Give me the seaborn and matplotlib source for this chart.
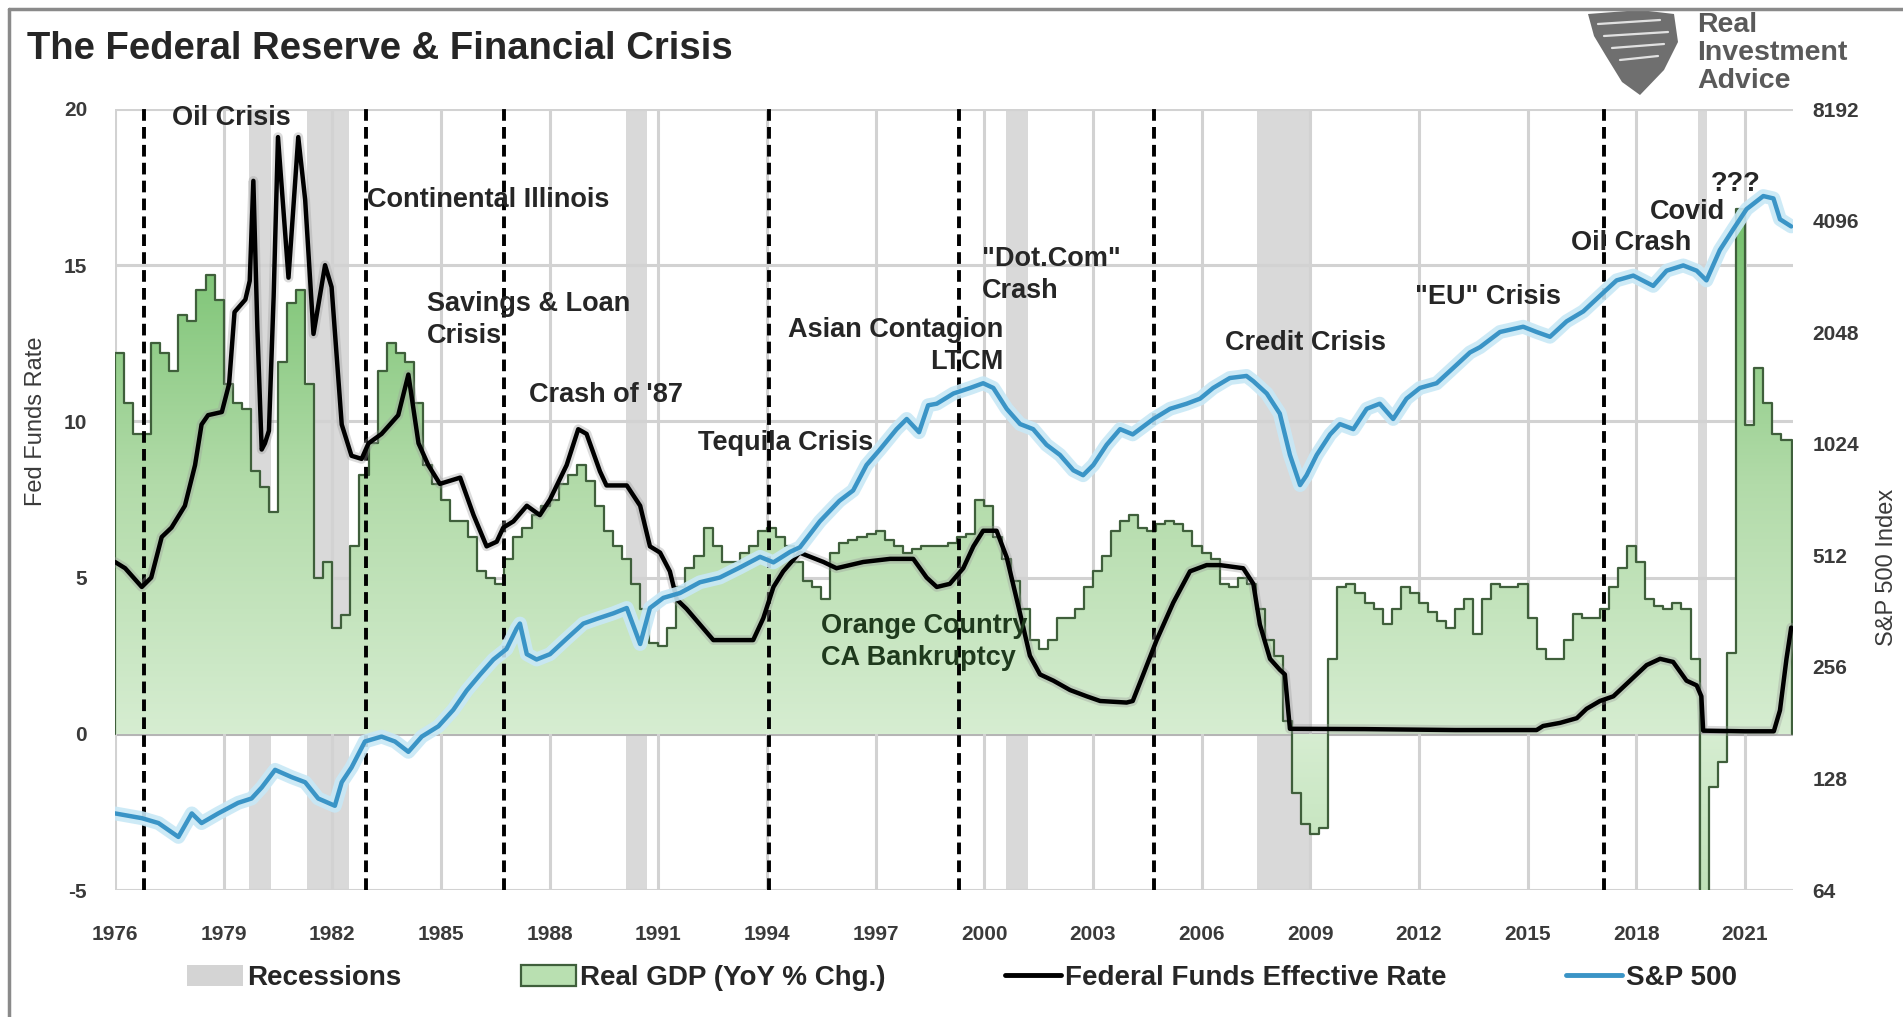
import numpy as np
import matplotlib
matplotlib.use("Agg")
import matplotlib.pyplot as plt
import seaborn as sns
from matplotlib.patches import Patch, Polygon
from matplotlib.lines import Line2D
from matplotlib.colors import LinearSegmentedColormap

# ---------------- data ----------------
# GDP year-over-year % change, quarterly, first quarter at 1976.0
gdp_start = 1976.0
gdp_end = 2022.3
gdp_yoy = [
    12.2, 10.6, 9.6, 9.6,     # 1976
    12.5, 12.2, 11.6, 13.4,   # 1977
    13.2, 14.2, 14.7, 13.9,   # 1978
    11.2, 10.6, 10.4, 8.4,    # 1979
    7.9, 7.1, 11.9, 13.8,     # 1980
    14.2, 11.2, 5.0, 5.5,     # 1981
    3.4, 3.8, 6.0, 8.3,       # 1982
    9.3, 11.6, 12.5, 12.2,    # 1983
    11.9, 10.6, 8.6, 8.0,     # 1984
    7.5, 6.8, 6.8, 6.3,       # 1985
    5.2, 5.0, 4.8, 5.6,       # 1986
    6.3, 6.6, 7.0, 7.3,       # 1987
    7.5, 8.0, 8.3, 8.6,       # 1988
    8.1, 7.3, 6.5, 6.0,       # 1989
    5.6, 4.8, 4.0, 2.9,       # 1990
    2.8, 3.4, 4.7, 5.3,       # 1991
    5.7, 6.6, 6.0, 5.5,       # 1992
    5.5, 5.8, 6.0, 6.5,       # 1993
    6.6, 6.3, 6.0, 5.5,       # 1994
    4.9, 4.7, 4.3, 5.8,       # 1995
    6.1, 6.2, 6.3, 6.4,       # 1996
    6.5, 6.2, 6.0, 5.8,       # 1997
    5.9, 6.0, 6.0, 6.0,       # 1998
    6.1, 6.3, 6.4, 7.5,       # 1999
    7.3, 6.3, 5.6, 4.9,       # 2000
    4.0, 3.0, 2.7, 3.0,       # 2001
    3.7, 3.7, 4.0, 4.7,       # 2002
    5.2, 5.7, 6.5, 6.8,       # 2003
    7.0, 6.6, 6.5, 6.7,       # 2004
    6.8, 6.7, 6.5, 6.0,       # 2005
    5.8, 5.6, 4.8, 4.7,       # 2006
    5.0, 4.8, 4.0, 3.0,       # 2007
    2.5, 0.4, -1.9, -2.9,     # 2008
    -3.2, -3.0, 2.4, 4.7,     # 2009
    4.8, 4.5, 4.2, 4.0,       # 2010
    3.5, 4.0, 4.7, 4.5,       # 2011
    4.2, 3.9, 3.6, 3.4,       # 2012
    4.0, 4.3, 3.2, 4.3,       # 2013
    4.8, 4.7, 4.7, 4.8,       # 2014
    3.7, 2.7, 2.4, 2.4,       # 2015
    3.0, 3.85, 3.7, 3.7,      # 2016
    4.0, 4.7, 5.3, 6.0,       # 2017
    5.5, 4.3, 4.1, 4.0,       # 2018
    4.2, 4.0, 2.4, -7.9,      # 2019
    -1.7, -0.9, 2.6, 16.8,    # 2020
    9.9, 11.7, 10.6, 9.6,     # 2021
    9.4,                      # 2022
]

# Federal funds effective rate
ff_years = [1976.0, 1976.28, 1976.74, 1977.0, 1977.29, 1977.56, 1977.93, 1978.21,
            1978.39, 1978.57, 1978.95, 1979.15, 1979.3, 1979.6, 1979.72, 1979.82,
            1979.93, 1980.05, 1980.14, 1980.25, 1980.38, 1980.5, 1980.79, 1981.06,
            1981.25, 1981.48, 1981.8, 1981.98, 1982.26, 1982.53, 1982.81, 1983.0,
            1983.36, 1983.82, 1984.1, 1984.38, 1984.65, 1984.97, 1985.53, 1985.9,
            1986.26, 1986.54, 1986.72, 1987.0, 1987.37, 1987.73, 1988.01, 1988.47,
            1988.79, 1989.02, 1989.39, 1989.57, 1990.13, 1990.5, 1990.77, 1991.05,
            1991.32, 1991.51, 1991.78, 1992.15, 1992.52, 1993.62, 1993.9, 1994.18,
            1994.45, 1994.9, 1995.56, 1995.92, 1996.66, 1997.4, 1998.04, 1998.41,
            1998.69, 1999.05, 1999.42, 1999.7, 1999.97, 2000.34, 2000.62, 2000.99,
            2001.26, 2001.54, 2001.91, 2002.37, 2002.83, 2003.2, 2003.93, 2004.1,
            2004.39, 2004.76, 2005.22, 2005.68, 2006.14, 2006.51, 2007.15, 2007.43,
            2007.61, 2007.89, 2008.16, 2008.3, 2008.44, 2010.5, 2013.0, 2015.25,
            2015.43, 2015.9, 2016.36, 2016.63, 2017.0, 2017.37, 2017.83, 2018.29,
            2018.66, 2019.02, 2019.39, 2019.67, 2019.8, 2019.85, 2021.0, 2021.8,
            2021.97, 2022.15, 2022.28]
ff_rate = [5.5, 5.3, 4.7, 5.0, 6.3, 6.6, 7.3, 8.6,
           9.9, 10.2, 10.3, 11.2, 13.5, 13.9, 14.5, 17.7,
           13.0, 9.1, 9.3, 9.7, 14.0, 19.1, 14.6, 19.1,
           17.1, 12.8, 15.0, 14.3, 9.9, 8.9, 8.8, 9.3,
           9.6, 10.2, 11.5, 9.3, 8.6, 8.0, 8.2, 7.0,
           6.0, 6.15, 6.6, 6.8, 7.3, 7.0, 7.5, 8.6,
           9.75, 9.6, 8.4, 7.95, 7.95, 7.3, 6.0, 5.8,
           5.2, 4.3, 4.0, 3.5, 3.0, 3.0, 3.7, 4.7,
           5.2, 5.8, 5.5, 5.3, 5.5, 5.6, 5.6, 5.0,
           4.7, 4.8, 5.3, 6.0, 6.5, 6.5, 5.65, 3.85,
           2.5, 1.9, 1.7, 1.4, 1.2, 1.05, 1.0, 1.05,
           1.9, 3.0, 4.2, 5.2, 5.4, 5.4, 5.3, 4.8,
           3.5, 2.4, 2.05, 1.9, 0.16, 0.15, 0.12, 0.12,
           0.25, 0.35, 0.5, 0.8, 1.05, 1.2, 1.7, 2.2,
           2.4, 2.3, 1.7, 1.55, 1.2, 0.1, 0.08, 0.08,
           0.75, 2.4, 3.4]

# S&P 500 index level
spx_years = [1976.0, 1976.74, 1977.2, 1977.75, 1978.12, 1978.39, 1978.85, 1979.4,
             1979.77, 1980.05, 1980.42, 1980.88, 1981.25, 1981.61, 1982.07, 1982.26,
             1982.53, 1982.9, 1983.36, 1983.73, 1984.1, 1984.47, 1984.93, 1985.34,
             1985.71, 1986.08, 1986.45, 1986.81, 1987.09, 1987.18, 1987.37, 1987.64,
             1988.01, 1988.47, 1988.93, 1989.3, 1989.76, 1990.13, 1990.5, 1990.77,
             1991.14, 1991.6, 1992.15, 1992.7, 1993.26, 1993.81, 1994.18, 1994.64,
             1994.91, 1995.46, 1996.0, 1996.38, 1996.75, 1997.12, 1997.58, 1997.86,
             1998.2, 1998.45, 1998.69, 1999.15, 1999.61, 1999.97, 2000.25, 2000.62,
             2000.99, 2001.35, 2001.72, 2002.09, 2002.46, 2002.73, 2003.01, 2003.38,
             2003.75, 2004.1, 2004.67, 2005.13, 2005.59, 2005.96, 2006.32, 2006.78,
             2007.24, 2007.43, 2007.8, 2008.16, 2008.44, 2008.72, 2008.9, 2009.18,
             2009.55, 2009.82, 2010.19, 2010.56, 2010.92, 2011.29, 2011.66, 2012.03,
             2012.49, 2012.95, 2013.41, 2013.69, 2014.24, 2014.88, 2015.25, 2015.62,
             2016.08, 2016.54, 2017.0, 2017.46, 2017.92, 2018.47, 2018.84, 2019.3,
             2019.67, 2019.94, 2020.31, 2020.68, 2021.05, 2021.51, 2021.79, 2021.97,
             2022.28]
spx_level = [103, 100, 97, 89, 103, 97, 103, 110,
             113, 121, 135, 129, 125, 113, 108, 125,
             137, 161, 166, 161, 151, 166, 177, 196,
             221, 244, 268, 286, 325, 335, 277, 268,
             277, 305, 335, 345, 357, 369, 295, 369,
             393, 405, 433, 446, 475, 507, 490, 523,
             538, 632, 718, 766, 897, 988, 1121, 1194,
             1100, 1300, 1313, 1399, 1448, 1491, 1448, 1272,
             1157, 1121, 1017, 955, 868, 842, 897, 1017,
             1121, 1085, 1194, 1272, 1313, 1355, 1448, 1540,
             1560, 1510, 1399, 1235, 955, 792, 842, 955,
             1085, 1157, 1121, 1272, 1313, 1194, 1355, 1448,
             1491, 1640, 1805, 1866, 2050, 2118, 2050, 1990,
             2190, 2330, 2567, 2825, 2910, 2730, 3000, 3100,
             3000, 2825, 3410, 3880, 4400, 4770, 4700, 4130,
             3950]

recessions = [(1979.7, 1980.3), (1981.3, 1982.45), (1990.1, 1990.7),
              (2000.6, 2001.2), (2007.52, 2009.0), (2019.7, 2019.95)]

crisis_years = [1976.8, 1982.93, 1986.75, 1994.05, 1999.3, 2004.7, 2017.1]

events = [
    ("Oil Crisis", 1979.22, 19.7, "center"),
    ("Continental Illinois", 1982.95, 17.1, "left"),
    ("Savings & Loan\nCrisis", 1984.62, 13.25, "left"),
    ("Crash of '87", 1987.44, 10.85, "left"),
    ("Tequila Crisis", 1992.11, 9.3, "left"),
    ("Asian Contagion\nLTCM", 2000.53, 12.4, "right"),
    ("\"Dot.Com\"\nCrash", 1999.93, 14.7, "left"),
    ("Credit Crisis", 2006.64, 12.5, "left"),
    ("\"EU\" Crisis", 2011.9, 13.97, "left"),
    ("Oil Crash", 2016.2, 15.72, "left"),
    ("Covid", 2018.38, 16.69, "left"),
    ("???", 2020.06, 17.59, "left"),
]
orange_county = ("Orange Country\nCA Bankruptcy", 1995.5, 2.94)

year_ticks = list(range(1976, 2022, 3))
rate_ticks = [-5, 0, 5, 10, 15, 20]
spx_ticks = [64, 128, 256, 512, 1024, 2048, 4096, 8192]

# ---------------- style ----------------
sns.set_theme(style="white")
FONT = ["Liberation Sans", "DejaVu Sans"]
plt.rcParams["font.family"] = FONT
plt.rcParams["axes.unicode_minus"] = False

W, H = 1903, 1017
fig = plt.figure(figsize=(W / 100, H / 100), dpi=100)
fig.patch.set_facecolor("white")

ax = fig.add_axes([115 / W, 1 - 890 / H, (1793 - 115) / W, (890 - 109) / H])
XMIN, XMAX = 1976.0, 2022.33
YMIN, YMAX = -5, 20

GRID = "#d2d2d2"
TXT = "#262626"
TICK = "#3a3a3a"

# recession shading
for a, b in recessions:
    ax.axvspan(a, b, color="#d9d9d9", lw=0, zorder=0.3)

# gridlines
for yv in rate_ticks:
    ax.axhline(yv, color=GRID if yv != 0 else "#b5b5b5", lw=2.2, zorder=0.4)
for xv in year_ticks:
    ax.axvline(xv, color=GRID, lw=2.2, zorder=0.4)

# GDP area with vertical green gradient
gdp_x = gdp_start + 0.25 * np.arange(len(gdp_yoy))
gx = np.append(gdp_x, gdp_end)
gy = np.append(gdp_yoy, gdp_yoy[-1])
fill = ax.fill_between(gx, gy, 0, step="post", facecolor="none",
                       edgecolor="none", zorder=2)
grad_vals = np.abs(np.linspace(YMIN, YMAX, 600))[:, None]
gcmap = LinearSegmentedColormap.from_list("gdp", ["#d6edd1", "#b2dba9", "#78c270"])
im = ax.imshow(grad_vals, extent=[XMIN, XMAX, YMIN, YMAX], origin="lower",
               aspect="auto", cmap=gcmap, vmin=0, vmax=16, zorder=2)
im.set_clip_path(fill.get_paths()[0], transform=ax.transData)

ox = np.concatenate([[gx[0]], gx, [gx[-1]]])
oy = np.concatenate([[0], gy, [0]])
sns.lineplot(x=ox, y=oy, ax=ax, sort=False, estimator=None,
             drawstyle="steps-post", color="#3f5f3b", lw=1.6, zorder=3)

# crisis markers
for cy in crisis_years:
    ax.axvline(cy, color="black", lw=2.8, ls=(0, (3, 1.6)), zorder=4)

# fed funds rate
sns.lineplot(x=ff_years, y=ff_rate, ax=ax, sort=False, estimator=None,
             color="#9a9a9a", lw=7, alpha=0.35, zorder=4.5)
sns.lineplot(x=ff_years, y=ff_rate, ax=ax, sort=False, estimator=None,
             color="black", lw=3.2, zorder=5)

ax.set_xlim(XMIN, XMAX)
ax.set_ylim(YMIN, YMAX)
ax.set_xticks(year_ticks)
ax.set_xticklabels([str(y) for y in year_ticks])
ax.set_yticks(rate_ticks)
ax.set_yticklabels([str(v) for v in rate_ticks])
ax.tick_params(axis="x", length=0, pad=25, labelsize=15, labelcolor=TICK)
ax.tick_params(axis="y", length=0, pad=20, labelsize=15, labelcolor=TICK)
for lab in ax.get_xticklabels() + ax.get_yticklabels():
    lab.set_fontweight("bold")
for s in ax.spines.values():
    s.set_visible(False)
ax.set_xlabel("")
ax.set_ylabel("")
ax.grid(False)

# S&P 500 on a log2 right axis
ax2 = ax.twinx()
ax2.set_yscale("log", base=2)
sns.lineplot(x=spx_years, y=spx_level, ax=ax2, sort=False, estimator=None,
             color="#c8e8f6", lw=10, alpha=0.9, zorder=5)
sns.lineplot(x=spx_years, y=spx_level, ax=ax2, sort=False, estimator=None,
             color="#3a94c6", lw=3.2, zorder=6)
ax2.set_ylim(64, 8192)
ax2.set_xlim(XMIN, XMAX)
ax2.set_yticks(spx_ticks)
ax2.set_yticklabels([str(v) for v in spx_ticks])
ax2.yaxis.set_minor_locator(matplotlib.ticker.NullLocator())
ax2.tick_params(axis="y", length=0, pad=14, labelsize=15, labelcolor=TICK)
for lab in ax2.get_yticklabels():
    lab.set_fontweight("bold")
for s in ax2.spines.values():
    s.set_visible(False)
ax2.set_ylabel("")
ax2.grid(False)

# event labels
for label, xv, yv, ha in events:
    ax2.text(xv, yv, label, transform=ax.transData, ha=ha, va="center",
             multialignment=ha, fontsize=19.5, fontweight="bold", color=TXT,
             linespacing=1.3, zorder=10)
lbl, xv, yv = orange_county
ax2.text(xv, yv, lbl, transform=ax.transData, ha="left", va="center",
         fontsize=19.5, fontweight="bold", color="#1f3a1d", linespacing=1.3,
         zorder=10)

# axis titles
fig.text(36 / W, 1 - 421 / H, "Fed Funds Rate", rotation=90, ha="center",
         va="center", fontsize=17, color=TICK)
fig.text(1887 / W, 1 - 567 / H, "S&P 500 Index", rotation=90, ha="center",
         va="center", fontsize=17, color=TICK)

# title
fig.text(27 / W, 1 - 49 / H, "The Federal Reserve & Financial Crisis",
         ha="left", va="center", fontsize=27.5, fontweight="bold", color=TXT)

# legend
handles = [
    Patch(facecolor="#d4d4d4", edgecolor="none"),
    Patch(facecolor="#b9e0b1", edgecolor="#3f5f3b", lw=1.6),
    Line2D([], [], color="black", lw=3.5),
    Line2D([], [], color="#3a94c6", lw=3.5),
]
labels = ["Recessions", "Real GDP (YoY % Chg.)", "Federal Funds Effective Rate",
          "S&P 500"]
leg = fig.legend(handles, labels, loc="center", ncol=4,
                 bbox_to_anchor=(962 / W, 1 - 978 / H), frameon=False,
                 prop={"size": 20, "weight": "bold"}, handlelength=2.0,
                 handleheight=0.8, handletextpad=0.15, columnspacing=4.3)
for t in leg.get_texts():
    t.set_color(TXT)

# frame and logo overlay
ov = fig.add_axes([0, 0, 1, 1], zorder=20)
ov.set_xlim(0, W)
ov.set_ylim(H, 0)
ov.axis("off")
ov.patch.set_alpha(0)
ov.plot([9, 9], [9, H], color="#8a8a8a", lw=2.5)
ov.plot([9, W], [9, 9], color="#8a8a8a", lw=2.5)

logo = Polygon([(1588, 14), (1640, 10), (1674, 14), (1678, 42), (1664, 70),
                (1640, 95), (1622, 82), (1606, 56), (1594, 36)],
               closed=True, facecolor="#6f6f6f", edgecolor="none")
ov.add_patch(logo)
for yy, x0, x1 in [(24, 1598, 1660), (36, 1604, 1668), (48, 1612, 1664),
                   (60, 1620, 1658)]:
    ov.plot([x0, x1], [yy, yy - 4], color="white", lw=1.6, alpha=0.8)
for i, word in enumerate(["Real", "Investment", "Advice"]):
    ov.text(1697, 25 + 28 * i, word, ha="left", va="center", fontsize=20.5,
            fontweight="bold", color="#5a5a5a")

fig.savefig("out.png", dpi=100, facecolor="white")
